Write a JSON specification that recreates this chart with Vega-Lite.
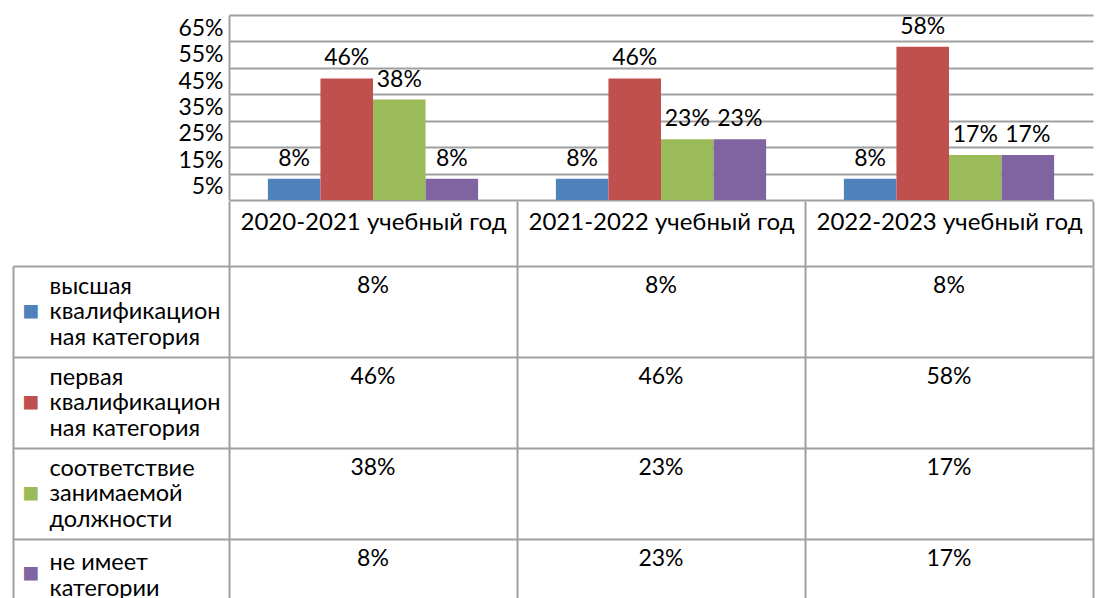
{
  "$schema": "https://vega.github.io/schema/vega-lite/v6.json",
  "background": "white",
  "padding": {"left": 12, "top": 15, "right": 5, "bottom": 0},
  "config": {
    "font": "Lato",
    "view": {"stroke": null},
    "text": {"font": "Lato", "color": "black"}
  },
  "data": {
    "values": [
      {"year": "2020-2021 учебный год", "series": "высшая квалификационная категория", "value": 0.08},
      {"year": "2020-2021 учебный год", "series": "первая квалификационная категория", "value": 0.46},
      {"year": "2020-2021 учебный год", "series": "соответствие занимаемой должности", "value": 0.38},
      {"year": "2020-2021 учебный год", "series": "не имеет категории", "value": 0.08},
      {"year": "2021-2022 учебный год", "series": "высшая квалификационная категория", "value": 0.08},
      {"year": "2021-2022 учебный год", "series": "первая квалификационная категория", "value": 0.46},
      {"year": "2021-2022 учебный год", "series": "соответствие занимаемой должности", "value": 0.23},
      {"year": "2021-2022 учебный год", "series": "не имеет категории", "value": 0.23},
      {"year": "2022-2023 учебный год", "series": "высшая квалификационная категория", "value": 0.08},
      {"year": "2022-2023 учебный год", "series": "первая квалификационная категория", "value": 0.58},
      {"year": "2022-2023 учебный год", "series": "соответствие занимаемой должности", "value": 0.17},
      {"year": "2022-2023 учебный год", "series": "не имеет категории", "value": 0.17}
    ]
  },
  "spacing": 0,
  "resolve": {"scale": {"x": "independent", "y": "independent", "color": "shared"}, "axis": {"x": "independent", "y": "independent"}},
  "vconcat": [
    {
      "width": 864,
      "height": 185,
      "encoding": {
        "x": {"field": "year", "type": "nominal", "sort": null, "scale": {"paddingInner": 0.27, "paddingOuter": 0.135}, "axis": null},
        "xOffset": {"field": "series", "type": "nominal", "sort": ["высшая квалификационная категория", "первая квалификационная категория", "соответствие занимаемой должности", "не имеет категории"]},
        "y": {
          "field": "value", "type": "quantitative",
          "scale": {"domain": [0, 0.7], "nice": false},
          "axis": {
            "title": null,
            "values": [0, 0.05, 0.1, 0.15, 0.2, 0.25, 0.3, 0.35, 0.4, 0.45, 0.5, 0.55, 0.6, 0.65, 0.7],
            "format": ".0%",
            "labelExpr": "round(datum.value * 100) % 10 == 5 ? datum.label : ''",
            "labelOverlap": false,
            "labelFlush": false,
            "labelFontSize": {"condition": {"test": "round(datum.value * 100) % 10 == 5", "value": 23}, "value": 0},
            "labelColor": "black",
            "labelPadding": 6,
            "ticks": false,
            "domainColor": "#a0a0a0",
            "domainWidth": 2,
            "grid": true,
            "gridColor": "#a0a0a0",
            "gridWidth": 2,
            "gridOpacity": {"condition": {"test": "round(datum.value * 100) % 10 == 0", "value": 1}, "value": 0}
          }
        }
      },
      "layer": [
        {
          "mark": {"type": "bar"},
          "encoding": {
            "color": {
              "field": "series", "type": "nominal",
              "scale": {
                "domain": ["высшая квалификационная категория", "первая квалификационная категория", "соответствие занимаемой должности", "не имеет категории"],
                "range": ["#4F81BD", "#C0504D", "#9BBB59", "#8064A2"]
              },
              "legend": null
            }
          }
        },
        {
          "mark": {"type": "text", "fontSize": 23, "baseline": "middle", "dy": -20},
          "encoding": {
            "text": {"field": "value", "type": "quantitative", "format": ".0%"}
          }
        }
      ]
    },
    {
      "width": 864,
      "height": 364,
      "encoding": {
        "x": {
          "field": "year", "type": "nominal", "sort": null,
          "scale": {"paddingInner": 0, "paddingOuter": 0},
          "axis": {
            "orient": "top",
            "title": null,
            "tickBand": "extent",
            "ticks": true,
            "tickSize": 65,
            "tickColor": "#a0a0a0",
            "tickWidth": 2,
            "grid": true,
            "gridColor": "#a0a0a0",
            "gridWidth": 2,
            "domain": false,
            "labelAngle": 0,
            "labelFontSize": 24,
            "labelLimit": 400,
            "labelColor": "black",
            "labelBaseline": "middle",
            "labelPadding": -21
          }
        }
      },
      "layer": [
        {
          "mark": {"type": "text", "fontSize": 23, "baseline": "middle", "dy": 20},
          "encoding": {
            "y": {
              "field": "series", "type": "nominal",
              "sort": ["высшая квалификационная категория", "первая квалификационная категория", "соответствие занимаемой должности", "не имеет категории"],
              "bandPosition": 0,
              "scale": {"paddingInner": 0, "paddingOuter": 0},
              "axis": {
                "orient": "left",
                "title": null,
                "offset": 216,
                "ticks": true,
                "tickBand": "extent",
                "tickSize": -1080,
                "tickColor": "#a0a0a0",
                "tickWidth": 2,
                "domainColor": "#a0a0a0",
                "domainWidth": 2,
                "grid": false,
                "labelAlign": "left",
                "labelBaseline": "middle",
                "labelPadding": 1044,
                "labelFontSize": 23.5,
                "labelLineHeight": 25.5,
                "labelLimit": 400,
                "labelColor": "black",
                "labelOffset": {"condition": {"test": "datum.value == 'не имеет категории'", "value": -22}, "value": -25.5},
                "labelExpr": "datum.value == 'высшая квалификационная категория' ? ['высшая', 'квалификацион', 'ная категория'] : datum.value == 'первая квалификационная категория' ? ['первая', 'квалификацион', 'ная категория'] : datum.value == 'соответствие занимаемой должности' ? ['соответствие', 'занимаемой', 'должности'] : datum.value == 'не имеет категории' ? ['не имеет', 'категории'] : ''"
              }
            },
            "text": {"field": "value", "type": "quantitative", "format": ".0%"}
          }
        },
        {
          "mark": {"type": "rect", "opacity": 0},
          "encoding": {
            "y": {
              "field": "series", "type": "nominal",
              "sort": ["высшая квалификационная категория", "первая квалификационная категория", "соответствие занимаемой должности", "не имеет категории"],
              "axis": {
                "orient": "left",
                "title": null,
                "offset": 216,
                "ticks": false,
                "domain": false,
                "grid": false,
                "labelAlign": "left",
                "labelBaseline": "middle",
                "labelPadding": -9,
                "labelFontSize": 28,
                "labelExpr": "'■'",
                "labelOffset": {"condition": {"test": "datum.value == 'не имеет категории'", "value": -11}, "value": 0},
                "labelColor": {
                  "condition": [
                    {"test": "datum.value == 'высшая квалификационная категория'", "value": "#4F81BD"},
                    {"test": "datum.value == 'первая квалификационная категория'", "value": "#C0504D"},
                    {"test": "datum.value == 'соответствие занимаемой должности'", "value": "#9BBB59"}
                  ],
                  "value": "#8064A2"
                }
              }
            }
          }
        }
      ],
      "resolve": {"axis": {"y": "independent"}}
    }
  ]
}
